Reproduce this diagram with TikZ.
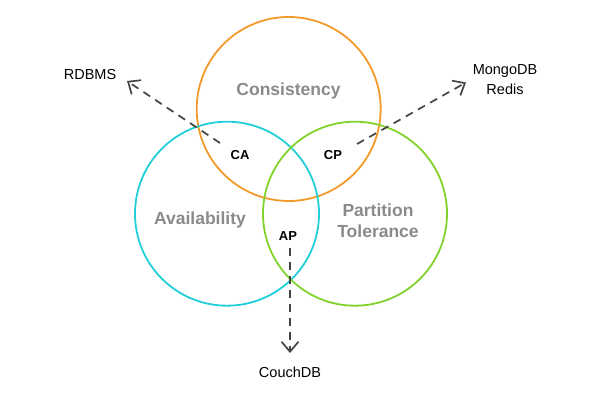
\documentclass[tikz,border=0pt]{standalone}
\usepackage{fontspec}
\setmainfont{Liberation Sans}
\usetikzlibrary{arrows.meta}
\definecolor{corange}{HTML}{F39A2B}
\definecolor{ccyan}{HTML}{22CFD8}
\definecolor{cgreen}{HTML}{82D22C}
\definecolor{cgrey}{HTML}{8A8A8A}
\definecolor{cdash}{HTML}{444444}
\begin{document}
\begin{tikzpicture}[x=1pt,y=-1pt,
  ring/.style={draw=#1,line width=1.8pt,circle,minimum size=184pt,inner sep=0pt},
  setlabel/.style={text=cgrey,font=\fontsize{17.5}{21.5}\selectfont\bfseries,align=center},
  zone/.style={font=\fontsize{13}{15}\selectfont\bfseries,inner sep=1pt},
  dbname/.style={font=\fontsize{14.5}{20}\selectfont,align=center,inner sep=1pt},
  dasharrow/.style={draw=cdash,line width=1.7pt,dash pattern=on 8pt off 6pt,-{Straight Barb[length=10pt,width=17pt,line width=1.7pt]}}]
\useasboundingbox (0,0) rectangle (597,419);
\node[ring=corange] (C) at (288.7,109) {};
\node[ring=ccyan] (A) at (227,213.7) {};
\node[ring=cgreen] (P) at (355,213.7) {};
\node[setlabel] (tc) at (288.5,90.5) {Consistency};
\node[setlabel] (ta) at (200,220) {Availability};
\node[setlabel] (tp) at (378,220.5) {Partition\\Tolerance};
\node[zone] (ca) at (240,155) {CA};
\node[zone] (cp) at (333,155) {CP};
\node[zone] (ap) at (288,236) {AP};
\node[dbname] (rd) at (90,75) {RDBMS};
\node[dbname] (mr) at (505,79.5) {MongoDB\\Redis};
\node[dbname] (cd) at (290,372) {CouchDB};
\coordinate (s1) at (220,143);
\coordinate (e1) at (127,81);
\coordinate (s2) at (357,144);
\coordinate (e2) at (466,82.5);
\coordinate (s3) at (290,248);
\coordinate (e3) at (290,353);
\draw[dasharrow] (s1) -- (e1);
\draw[dasharrow] (s2) -- (e2);
\draw[dasharrow] (s3) -- (e3);
\end{tikzpicture}
\end{document}
